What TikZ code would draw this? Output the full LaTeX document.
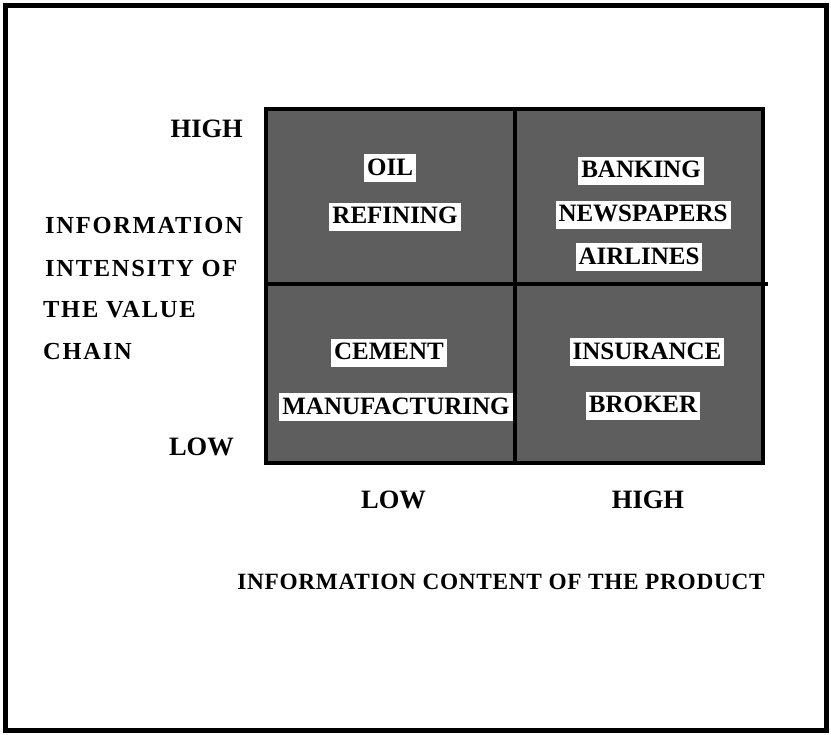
\documentclass[tikz,border=0pt]{standalone}
\usepackage{fontspec}
\setmainfont{Liberation Serif}
\newfontfamily\labfont[LetterSpace=7]{Liberation Serif}
\newfontfamily\titlefont[LetterSpace=3]{Liberation Serif}
\begin{document}
\begin{tikzpicture}[x=1pt,y=-1pt,
  cell/.style={fill=black!63, draw=black!25, line width=0.8pt},
  rule/.style={line width=3.2pt, black},
  tag/.style={fill=white, text=black, inner xsep=3pt, inner ysep=0pt,
    text height=21pt, text depth=7pt, font=\bfseries\fontsize{25}{28}\selectfont},
  axis/.style={font=\bfseries\fontsize{26.5}{30}\selectfont, inner sep=0pt},
  side/.style={font=\labfont\bfseries\fontsize{24.5}{28}\selectfont, inner sep=0pt, anchor=base west},
  title/.style={font=\titlefont\bfseries\fontsize{23.3}{26}\selectfont, inner sep=0pt, anchor=base}]
  % page and outer frame
  \useasboundingbox (0,0) rectangle (831,735);
  \fill[white] (0,0) rectangle (831,735);
  \draw[line width=5pt] (5.5,6) rectangle (826,730);

  % the four shaded cells
  \draw[cell] (267.5,110.5) rectangle (513.5,282.5);
  \draw[cell] (516.5,110.5) rectangle (761.5,282.5);
  \draw[cell] (267.5,285.5) rectangle (513.5,461.5);
  \draw[cell] (516.5,285.5) rectangle (761.5,461.5);

  % grid frame and dividers
  \coordinate (tl) at (266,109);
  \coordinate (br) at (763,463);
  \coordinate (vt) at (515,109);
  \coordinate (vb) at (515,463);
  \coordinate (hl) at (266,284);
  \coordinate (hr) at (768,284);
  \draw[rule] (tl) rectangle (br);
  \draw[rule] (vt) -- (vb);
  \draw[rule] (hl) -- (hr);

  % quadrant entries
  \node[tag] (oil) at (390,168.5) {OIL};
  \node[tag] (refining) at (395,217) {REFINING};
  \node[tag] (banking) at (641,171) {BANKING};
  \node[tag] (newspapers) at (643,215) {NEWSPAPERS};
  \node[tag] (airlines) at (639,257.5) {AIRLINES};
  \node[tag] (cement) at (389,353) {CEMENT};
  \node[tag] (manufacturing) at (396,407.5) {MANUFACTURING};
  \node[tag] (insurance) at (647,352.5) {INSURANCE};
  \node[tag] (broker) at (643,406) {BROKER};

  % vertical axis
  \node[axis, anchor=base east] (yhigh) at (243,138) {HIGH};
  \node[axis, anchor=base east] (ylow) at (234,456) {LOW};
  \node[side] (ya) at (45,234) {INFORMATION};
  \node[side] (yb) at (45,277) {INTENSITY OF};
  \node[side] (yc) at (43,318) {THE VALUE};
  \node[side] (yd) at (43,360) {CHAIN};

  % horizontal axis
  \node[axis, anchor=base] (xlow) at (393.5,509) {LOW};
  \node[axis, anchor=base] (xhigh) at (648,509) {HIGH};
  \node[title] (xtitle) at (501,590) {INFORMATION CONTENT OF THE PRODUCT};
\end{tikzpicture}
\end{document}
